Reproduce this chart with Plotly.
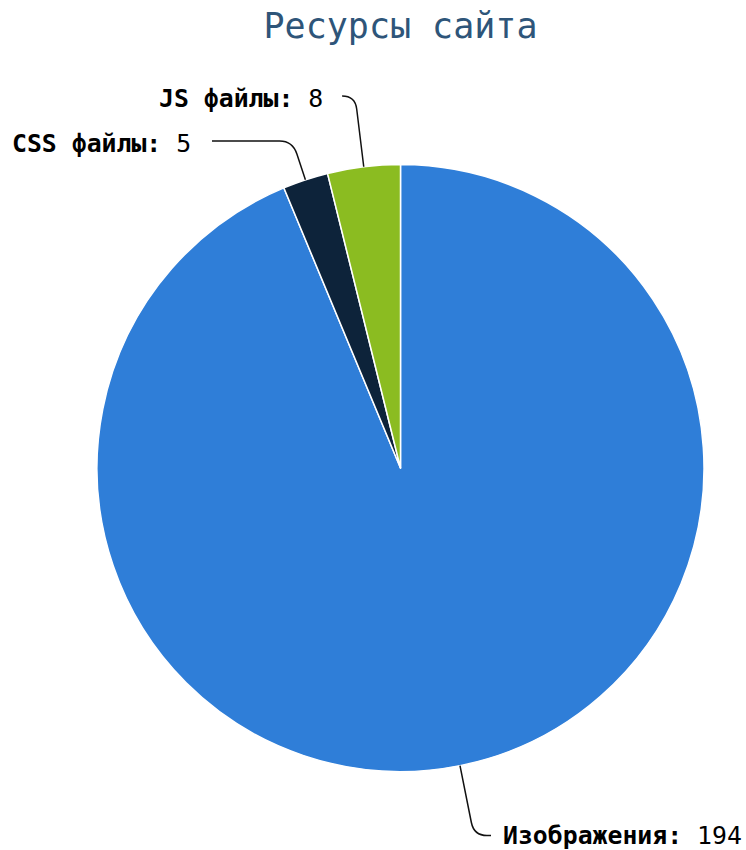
import math
import plotly.graph_objects as go

labels = ["Изображения", "CSS файлы", "JS файлы"]
values = [194, 5, 8]
colors = ["#2f7ed8", "#0d233a", "#8bbc21"]

W, H = 746, 850
cx, cy, r = 400.5, 468, 303.5
FONT = "DejaVu Sans Mono"

# where each data label sits (text anchor x, y in pixels) and on which side
label_pos = [(501, 835.5, "right"), (193, 143.5, "left"), (325, 98.5, "left")]


def px(x, y):
    return x / W, 1 - y / H


fig = go.Figure(
    go.Pie(
        labels=labels,
        values=values,
        sort=False,
        direction="clockwise",
        rotation=0,
        marker=dict(colors=colors, line=dict(color="white", width=1.5)),
        textinfo="none",
        hoverinfo="label+value",
        showlegend=False,
        domain=dict(
            x=[px(cx - r, 0)[0], px(cx + r, 0)[0]],
            y=[px(0, cy + r)[1], px(0, cy - r)[1]],
        ),
    )
)

total = sum(values)
start = 0.0
shapes = []
annotations = []
for lab, val, (lx, ly, side) in zip(labels, values, label_pos):
    mid = start + val / total * 360 / 2
    start += val / total * 360
    a = math.radians(mid)
    dx, dy = math.sin(a), -math.cos(a)
    ex, ey = cx + r * dx, cy + r * dy
    sgn = 1 if side == "right" else -1
    line_y = ly if side == "right" else ly - 2.5
    # radial line out to the label's row, then round the corner
    t = (line_y - ey) / dy
    kx = ex + t * dx
    bend = 13
    bx, by = kx - bend * dx / abs(dy), line_y - bend * (1 if dy > 0 else -1)
    qx = kx + sgn * bend
    end_x = lx - sgn * (10 if side == "right" else 19)
    if sgn * (end_x - qx) < 0:
        end_x = qx
    p = [px(ex, ey), px(bx, by), px(kx, line_y), px(qx, line_y), px(end_x, line_y)]
    path = "M {0[0]},{0[1]} L {1[0]},{1[1]} Q {2[0]},{2[1]} {3[0]},{3[1]} L {4[0]},{4[1]}".format(*p)
    shapes.append(dict(type="path", path=path, xref="paper", yref="paper",
                       line=dict(color="#111111", width=1.5)))
    tx, ty = px(lx, ly)
    annotations.append(dict(
        x=tx, y=ty, xref="paper", yref="paper", showarrow=False,
        xanchor="left" if side == "right" else "right", yanchor="middle",
        text=f"<b>{lab}:</b> {val}",
        font=dict(family=FONT, size=24.8, color="black"),
    ))

tx, ty = px(400.5, 25.5)
fig.update_layout(
    width=W,
    height=H,
    margin=dict(l=0, r=0, t=0, b=0),
    paper_bgcolor="white",
    title=dict(text="Ресурсы сайта", x=tx, xanchor="center", y=ty, yanchor="middle",
               font=dict(family=FONT, size=35, color="#2e5579")),
    shapes=shapes,
    annotations=annotations,
)

# drop the default body margin so the figure fills the window exactly
fig.write_html(
    "out.html",
    config={"displayModeBar": False},
    post_script="document.body.style.margin='0';",
)
